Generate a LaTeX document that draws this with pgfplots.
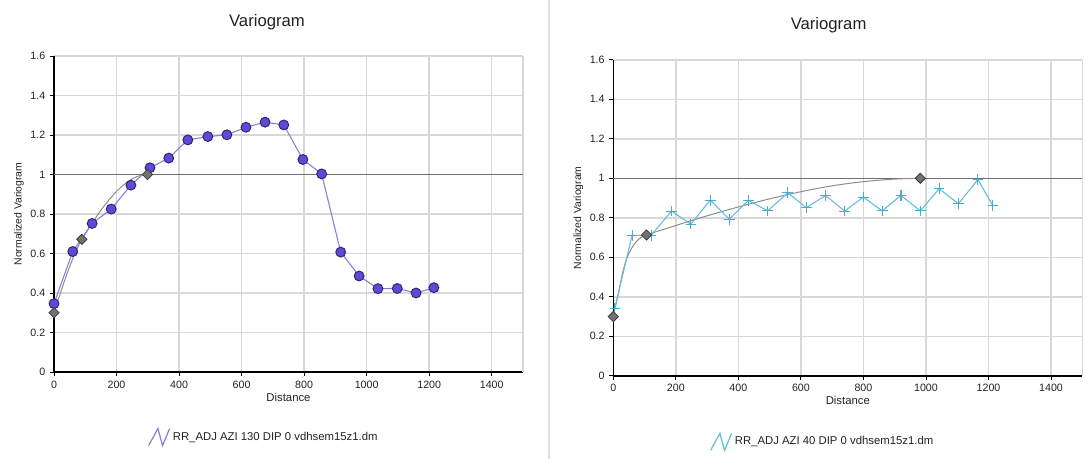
\documentclass[border=0pt]{standalone}
\usepackage{fontspec}
\setmainfont{Liberation Sans}
\usepackage{pgfplots}
\pgfplotsset{compat=1.18}
\definecolor{gridc}{HTML}{D8D8D8}
\definecolor{sillc}{HTML}{707070}
\definecolor{circfill}{HTML}{6248D6}
\definecolor{circdraw}{HTML}{2E2370}
\definecolor{purpline}{HTML}{8A7CDA}
\definecolor{cyanc}{HTML}{45AED0}
\definecolor{cyanline}{HTML}{63BCDA}
\definecolor{modelc}{HTML}{8C8C8C}
\definecolor{diafill}{HTML}{727272}
\definecolor{diadraw}{HTML}{3A3A3A}
\definecolor{txt}{HTML}{222222}

\pgfplotsset{vario/.style={
  scale only axis, width=351.75pt, height=237pt,
  xmin=0, xmax=1500, ymin=0, ymax=1.6,
  axis x line*=bottom, axis y line*=left,
  axis line style={line width=1.1pt, black, -},
  xtick={0,200,400,600,800,1000,1200,1400},
  xticklabels={0,200,400,600,800,1000,1200,1400},
  ytick={0,0.2,0.4,0.6,0.8,1,1.2,1.4,1.6},
  yticklabels={0,0.2,0.4,0.6,0.8,1,1.2,1.4,1.6},
  grid=major, grid style={gridc, line width=1.1pt},
  extra x ticks={1500}, extra x tick labels={},
  extra x tick style={major tick length=0pt, grid=major},
  extra y ticks={1}, extra y tick labels={},
  extra y tick style={major tick length=0pt, grid=major, grid style={sillc, line width=0.8pt}},
  tick align=outside, major tick length=3pt,
  tick style={black, line width=0.7pt},
  ticklabel style={font=\fontsize{8}{9}\selectfont, text=txt},
  every axis title shift=0pt,
  title style={anchor=center, font=\fontsize{12.5}{14}\selectfont, text=txt},
  xlabel={Distance},
  xlabel style={at={(axis description cs:0.5,-0.079)}, anchor=center, font=\fontsize{8.5}{10}\selectfont, text=txt},
  ylabel={Normalized Variogram},
  ylabel style={at={(axis description cs:-0.0746,0.5)}, anchor=center, font=\fontsize{7.8}{9}\selectfont, text=txt},
  legend style={draw=none, fill=none, anchor=center, inner sep=0pt,
    font=\fontsize{8.5}{10}\selectfont, text=txt},
  legend cell align=left,
  legend image code/.code={\draw[#1, line width=0.9pt, mark=none] (0pt,-6.4pt) -- (7pt,6.4pt) -- (10.5pt,-6.4pt) -- (15.75pt,6.4pt);},
}}

\pgfplotstableread{
h v
0 0.346
60 0.610
122 0.752
183 0.825
246 0.946
307 1.034
367 1.083
428 1.175
492 1.192
553 1.201
614 1.239
675 1.265
735 1.251
796 1.076
856 1.003
917 0.607
976 0.486
1036 0.422
1098 0.423
1158 0.400
1215 0.427
}\leftdata

\pgfplotstableread{
h v
0 0.300
10 0.349
20 0.397
30 0.445
45 0.512
60 0.574
75 0.628
89 0.672
120 0.749
150 0.819
180 0.879
210 0.930
240 0.968
270 0.992
299 1.000
}\leftmodel

\pgfplotstableread{
h v
0 0.300
89 0.672
299 1.000
}\leftdia

\pgfplotstableread{
h v
5 0.343
60 0.711
121 0.711
186 0.834
248 0.768
310 0.889
371 0.793
432 0.888
494 0.835
558 0.927
617 0.851
679 0.913
740 0.834
800 0.905
860 0.835
920 0.913
982 0.835
1042 0.947
1104 0.871
1166 0.994
1214 0.861
}\rightdata

\pgfplotstableread{
h v
0 0.300
8 0.360
17 0.420
27 0.500
42 0.590
64 0.660
85 0.697
106 0.713
150 0.736
200 0.761
250 0.786
300 0.810
400 0.855
500 0.896
600 0.932
700 0.962
800 0.983
900 0.996
982 1.000
}\rightmodel

\pgfplotstableread{
h v
0 0.300
106 0.713
982 1.000
}\rightdia

\begin{document}
\begin{tikzpicture}
\useasboundingbox (0,0) rectangle (813.75pt,344.25pt);
\draw[black!12, line width=1pt] (411.75pt,0) -- (411.75pt,344.25pt);

\begin{axis}[vario, at={(40.5pt,65.25pt)}, anchor=south west,
  title={Variogram}, title style={at={(axis description cs:0.454,1.108)}},
  legend style={at={(axis description cs:0.448,-0.206)}}]
\addplot[modelc, line width=0.75pt, smooth, forget plot] table[x=h,y=v] {\leftmodel};
\addplot[purpline, line width=0.8pt, mark=*, mark size=3.7pt,
  mark options={fill=circfill, draw=circdraw, line width=0.7pt}] table[x=h,y=v] {\leftdata};
\addlegendentry{RR\_ADJ AZI 130 DIP 0 vdhsem15z1.dm}
\addplot[only marks, mark=square*, mark size=2.7pt,
  mark options={rotate=45, fill=diafill, draw=diadraw, line width=0.6pt}, forget plot] table[x=h,y=v] {\leftdia};
\end{axis}

\begin{axis}[vario, at={(459.98pt,62.4pt)}, anchor=south west,
  title={Variogram}, title style={at={(axis description cs:0.459,1.108)}},
  legend style={at={(axis description cs:0.447,-0.209)}}]
\addplot[modelc, line width=0.75pt, smooth, forget plot] table[x=h,y=v] {\rightmodel};
\addplot[cyanline, line width=0.8pt, mark=+, mark size=4pt,
  mark options={draw=cyanc, line width=0.8pt}] table[x=h,y=v] {\rightdata};
\addlegendentry{RR\_ADJ AZI 40 DIP 0 vdhsem15z1.dm}
\addplot[only marks, mark=square*, mark size=2.7pt,
  mark options={rotate=45, fill=diafill, draw=diadraw, line width=0.6pt}, forget plot] table[x=h,y=v] {\rightdia};
\end{axis}
\end{tikzpicture}
\end{document}
